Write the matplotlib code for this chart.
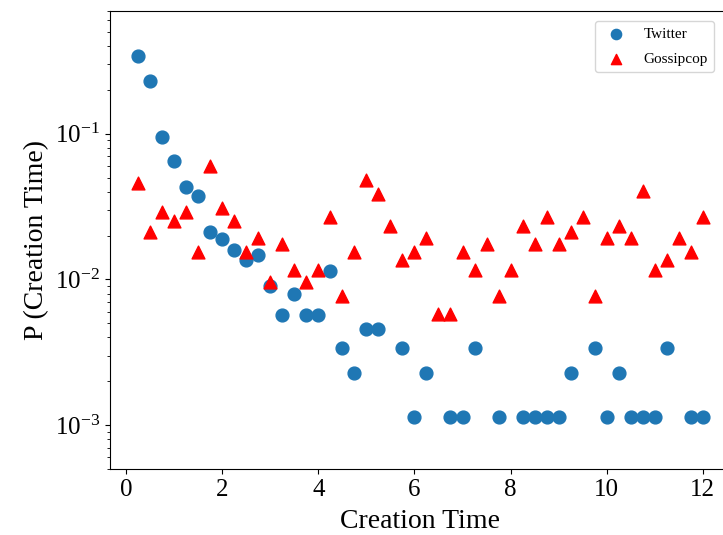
import matplotlib
matplotlib.use('Agg')
import matplotlib.pyplot as plt

plt.rcParams['font.family'] = ['Liberation Serif', 'DejaVu Serif']
plt.rcParams['mathtext.fontset'] = 'stix'

# creation time bins (x) and probabilities
twitter_x = [0.25, 0.5, 0.75, 1.0, 1.25, 1.5, 1.75, 2.0, 2.25, 2.5, 2.75, 3.0,
             3.25, 3.5, 3.75, 4.0, 4.25, 4.5, 4.75, 5.0, 5.25, 5.75, 6.0, 6.25,
             6.75, 7.0, 7.25, 7.75, 8.25, 8.5, 8.75, 9.0, 9.25, 9.75, 10.0,
             10.25, 10.5, 10.75, 11.0, 11.25, 11.75, 12.0]
twitter_p = [0.344, 0.23, 0.0955, 0.065, 0.0433, 0.0374, 0.0213, 0.0189, 0.0159,
             0.0136, 0.0147, 0.0090, 0.0057, 0.0079, 0.0057, 0.0057, 0.0114,
             0.0034, 0.00227, 0.00454, 0.00454, 0.0034, 0.00114, 0.00227,
             0.00114, 0.00114, 0.0034, 0.00114, 0.00114, 0.00114, 0.00114,
             0.00114, 0.00227, 0.0034, 0.00114, 0.00227, 0.00114, 0.00114,
             0.00114, 0.0034, 0.00114, 0.00114]

gossip_x = [0.25, 0.5, 0.75, 1.0, 1.25, 1.5, 1.75, 2.0, 2.25, 2.5, 2.75, 3.0,
            3.25, 3.5, 3.75, 4.0, 4.25, 4.5, 4.75, 5.0, 5.25, 5.5, 5.75, 6.0,
            6.25, 6.5, 6.75, 7.0, 7.25, 7.5, 7.75, 8.0, 8.25, 8.5, 8.75, 9.0,
            9.25, 9.5, 9.75, 10.0, 10.25, 10.5, 10.75, 11.0, 11.25, 11.5,
            11.75, 12.0]
gossip_p = [0.0463, 0.0212, 0.029, 0.0251, 0.029, 0.0154, 0.0598, 0.0309,
            0.0251, 0.0154, 0.0193, 0.00965, 0.0174, 0.0116, 0.00965, 0.0116,
            0.027, 0.00772, 0.0154, 0.0483, 0.0386, 0.0232, 0.0135, 0.0154,
            0.0193, 0.00579, 0.00579, 0.0154, 0.0116, 0.0174, 0.00772, 0.0116,
            0.0232, 0.0174, 0.027, 0.0174, 0.0212, 0.027, 0.00772, 0.0193,
            0.0232, 0.0193, 0.0405, 0.0116, 0.0135, 0.0193, 0.0154, 0.027]

fig = plt.figure(figsize=(7.23, 5.35), dpi=100)
ax = fig.add_axes([0.1521, 0.1234, 0.8589, 0.8566])

ax.scatter(twitter_x, twitter_p, s=85, marker='o', color='#1f77b4', label='Twitter')
ax.scatter(gossip_x, gossip_p, s=85, marker='^', color='red', label='Gossipcop')

ax.set_yscale('log')
ax.set_ylim(5e-4, 0.7)
ax.set_xticks([0, 2, 4, 6, 8, 10, 12])
ax.tick_params(axis='both', which='major', labelsize=18)

ax.set_xlabel('Creation Time', fontsize=20, labelpad=6)
ax.set_ylabel('P (Creation Time)', fontsize=20)

ax.legend(loc='upper left', bbox_to_anchor=(0.781, 0.978), borderaxespad=0,
          fontsize=11, markerscale=0.8, labelspacing=0.75)

fig.savefig('out.png', dpi=100)
